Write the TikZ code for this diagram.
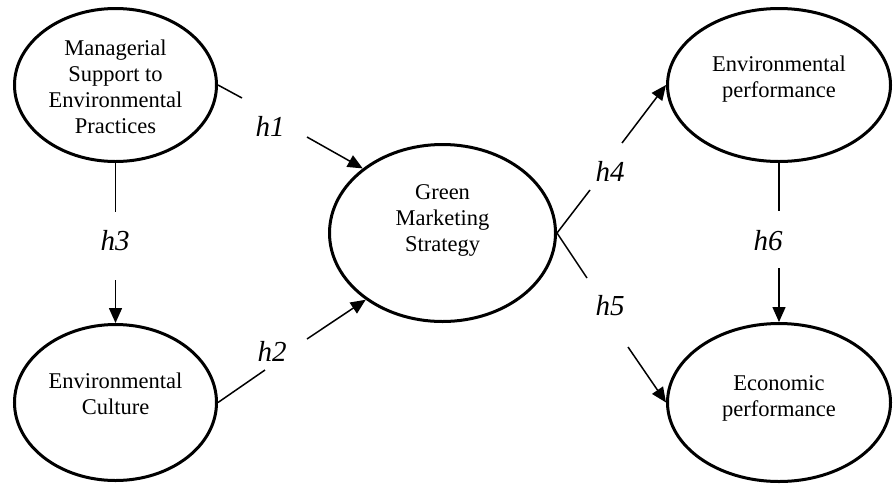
\documentclass[tikz,border=0pt]{standalone}
\usepackage{fontspec}
\setmainfont{Liberation Serif}
\usetikzlibrary{arrows.meta,shapes.geometric}
\newcommand{\nodetext}[2]{\raisebox{#1}[0pt][0pt]{\begin{tabular}{@{}c@{}}#2\end{tabular}}}
\begin{document}
\begin{tikzpicture}[x=1pt,y=-1pt,
  construct/.style={draw, ellipse, line width=3pt, inner sep=0pt, font=\fontsize{22.5}{26}\selectfont},
  link/.style={line width=1.5pt},
  arrowlink/.style={link, -{Triangle[length=15pt,width=13pt]}},
  hyp/.style={font=\fontsize{29}{32}\selectfont\itshape, inner sep=0pt}
]
\useasboundingbox (0,0) rectangle (893,483);

% constructs
\node[construct, minimum width=202pt, minimum height=153pt] (ms) at (115.5,85)
  {\nodetext{-9pt}{Managerial\\Support to\\Environmental\\Practices}};
\node[construct, minimum width=202pt, minimum height=156pt] (ec) at (115.5,402.5)
  {\nodetext{1pt}{Environmental\\Culture}};
\node[construct, minimum width=226pt, minimum height=177pt] (gm) at (442.5,233)
  {\nodetext{8pt}{Green\\Marketing\\Strategy}};
\node[construct, minimum width=223pt, minimum height=153pt] (ep) at (779,85)
  {\nodetext{1pt}{Environmental\\performance}};
\node[construct, minimum width=223pt, minimum height=158pt] (eco) at (779,402.5)
  {\nodetext{-1pt}{Economic\\performance}};

% gap coordinates
\coordinate (h1a) at (242,98);
\coordinate (h1b) at (307,137);
\coordinate (h2a) at (265,370);
\coordinate (h2b) at (307,339);
\coordinate (h3a) at (115.5,212);
\coordinate (h3b) at (115.5,280);
\coordinate (h4a) at (590,190);
\coordinate (h4b) at (622,143);
\coordinate (h5a) at (587,278);
\coordinate (h5b) at (628,347);
\coordinate (h6a) at (779,211);
\coordinate (h6b) at (779,268);

% connectors
\draw[link] (ms.east) -- (h1a);
\draw[arrowlink] (h1b) -- (gm.141);
\draw[link] (ec.east) -- (h2a);
\draw[arrowlink] (h2b) -- (gm.221);
\draw[link] (ms.south) -- (h3a);
\draw[arrowlink] (h3b) -- (ec.north);
\draw[link] (gm.east) -- (h4a);
\draw[arrowlink] (h4b) -- (ep.west);
\draw[link] (gm.east) -- (h5a);
\draw[arrowlink] (h5b) -- (eco.west);
\draw[link] (ep.south) -- (h6a);
\draw[arrowlink] (h6b) -- (eco.north);

% hypothesis labels
\node[hyp] (l1) at (270,126) {h1};
\node[hyp] (l2) at (272,351) {h2};
\node[hyp] (l3) at (115,241) {h3};
\node[hyp] (l4) at (610,171) {h4};
\node[hyp] (l5) at (610,306) {h5};
\node[hyp] (l6) at (768,241) {h6};
\end{tikzpicture}
\end{document}
